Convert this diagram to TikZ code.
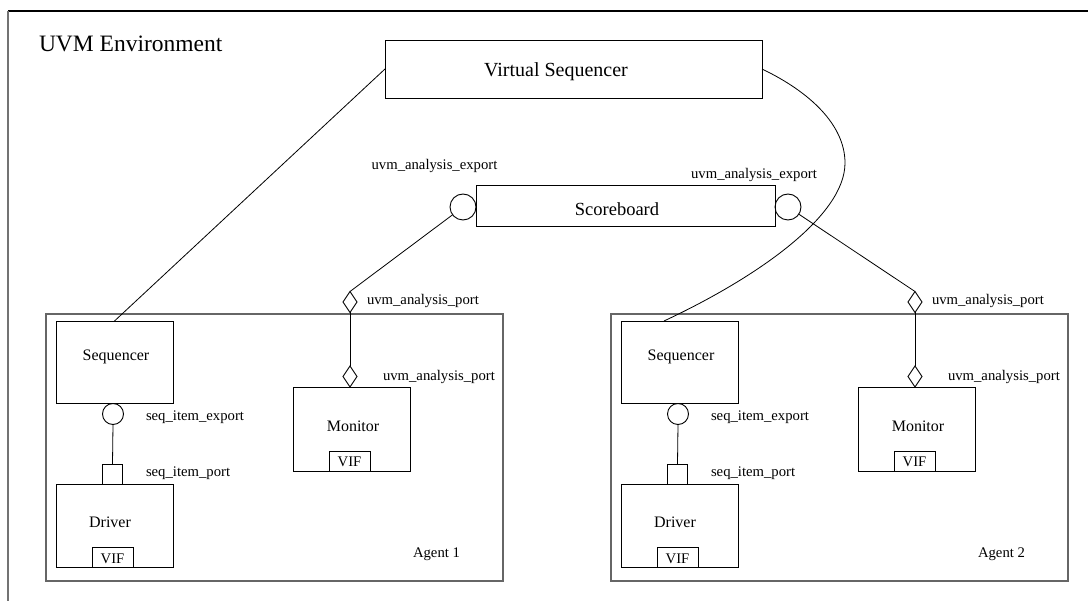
\documentclass[tikz,border=0pt]{standalone}
\usepackage{fontspec}
\setmainfont{Liberation Serif}
\usetikzlibrary{shapes.geometric,calc}
\begin{document}
\begin{tikzpicture}[x=1pt,y=-1pt,
  every node/.style={inner sep=0pt, outer sep=0pt},
  blk/.style={draw, rectangle, line width=0.9pt},
  agentbox/.style={draw=black!60, rectangle, line width=1.4pt},
  wire/.style={line width=0.8pt},
  expt/.style={draw, circle, line width=0.9pt},
  aport/.style={draw, diamond, line width=0.9pt, minimum width=14, minimum height=21},
  sport/.style={draw, rectangle, line width=0.9pt, minimum size=20},
  title/.style={font=\fontsize{23.5}{26}\selectfont},
  bigname/.style={font=\fontsize{20}{22}\selectfont},
  sbname/.style={font=\fontsize{18.5}{20}\selectfont},
  cname/.style={font=\fontsize{16}{18}\selectfont},
  lbl/.style={font=\fontsize{14.7}{16}\selectfont},
]
\useasboundingbox (0,0) rectangle (1088,601);

% environment frame
\draw[line width=1.2pt] (8,11) -- (1088,11);
\draw[line width=1.6pt, black!55] (8,11) -- (8,601);
\node[title, anchor=base west] (envlbl) at (39,52) {UVM Environment};

% virtual sequencer
\node[blk, minimum width=377, minimum height=58] (vseq) at (573.5,69) {};
\node[bigname, anchor=base] (vseqlbl) at (556,76.5) {Virtual Sequencer};

% scoreboard with its two analysis exports
\node[blk, minimum width=299, minimum height=41] (sb) at (625.5,205.5) {};
\node[sbname, anchor=base] (sblbl) at (617,216) {Scoreboard};
\node[expt, minimum size=26] (scl) at (463,207) {};
\node[expt, minimum size=26] (scr) at (788,207) {};
\node[lbl, anchor=base] (scllbl) at (434.5,170) {uvm\_analysis\_export};
\node[lbl, anchor=base] (scrlbl) at (754,179) {uvm\_analysis\_export};

% the two agents
\foreach \i/\dx in {1/0,2/565}{
  \begin{scope}[xshift=\dx pt]
    \node[agentbox, minimum width=457, minimum height=267] (agent\i) at (274.5,447.5) {};
    \node[lbl, anchor=base] (agentlbl\i) at (436.5,558) {Agent \i};
    % sequencer and driver
    \node[blk, minimum width=117, minimum height=82] (seq\i) at (114.5,362) {};
    \node[cname, anchor=base] (seqlbl\i) at (116,360.7) {Sequencer};
    \node[blk, minimum width=117, minimum height=83] (drv\i) at (114.5,525.5) {};
    \node[cname, anchor=base] (drvlbl\i) at (110,527.7) {Driver};
    \node[blk, minimum width=41, minimum height=20] (drvvif\i) at (112.5,557) {};
    \node[lbl, anchor=base] (drvviflbl\i) at (112.5,564) {VIF};
    \node[expt, minimum size=21] (ex\i) at (113,414) {};
    \node[sport] (pt\i) at (112.5,474) {};
    \node[lbl, anchor=base west] (exlbl\i) at (146,421) {seq\_item\_export};
    \node[lbl, anchor=base west] (ptlbl\i) at (146,476.7) {seq\_item\_port};
    \draw[wire] (ex\i.south) -- (pt\i.north);
    % monitor
    \node[blk, minimum width=117, minimum height=84] (mon\i) at (351.5,429) {};
    \node[cname, anchor=base] (monlbl\i) at (353,431.7) {Monitor};
    \node[blk, minimum width=41, minimum height=20] (monvif\i) at (349.5,461) {};
    \node[lbl, anchor=base] (monviflbl\i) at (349.5,466.7) {VIF};
    \node[aport] (pa\i) at (350,302) {};
    \node[aport] (pb\i) at (350,376.5) {};
    \node[lbl, anchor=base west] (palbl\i) at (367,304.3) {uvm\_analysis\_port};
    \node[lbl, anchor=base west] (pblbl\i) at (383,381) {uvm\_analysis\_port};
    \draw[wire] (pa\i.south) -- (pb\i.north);
  \end{scope}
}

% connections
\draw[wire] (scl) -- (pa1.north);
\draw[wire] (scr) -- (pa2.north);
\draw[wire] (vseq.west) -- (seq1.north);
\coordinate (bend) at (845,163);
\coordinate (seq2in) at ($(seq2.north)+(-15.5,0)$);
\draw[wire] (vseq.east) .. controls (810,92) and (845,125) .. (bend)
  .. controls (845,215) and (760,276) .. (seq2in);
\end{tikzpicture}
\end{document}
